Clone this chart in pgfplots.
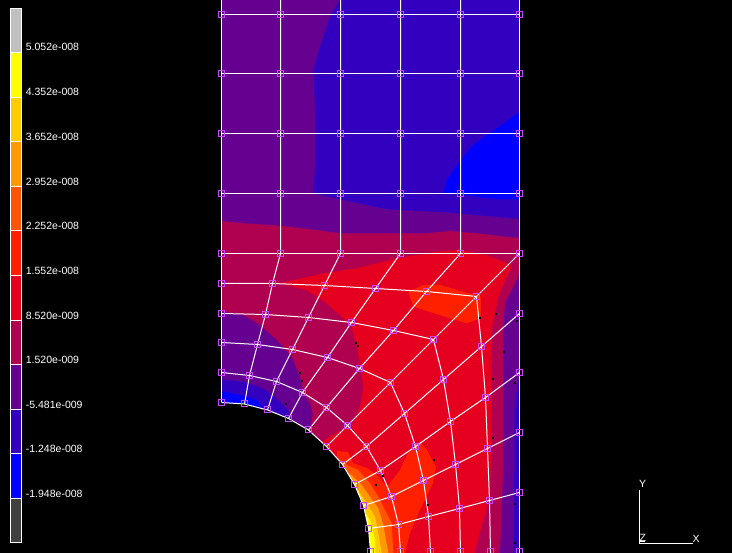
\documentclass[border=0pt]{standalone}
\usepackage{pgfplots}
\pgfplotsset{compat=1.18}
\usepackage{fontspec}
\setmainfont{Liberation Sans}
\definecolor{cP}{HTML}{660090}
\definecolor{cV}{HTML}{3300C0}
\definecolor{cB}{HTML}{0000FF}
\definecolor{cM}{HTML}{B00050}
\definecolor{cR}{HTML}{E60020}
\definecolor{cO}{HTML}{FF2000}
\definecolor{cF}{HTML}{FF5500}
\definecolor{cG}{HTML}{FF9900}
\definecolor{cH}{HTML}{FFCC00}
\definecolor{cY}{HTML}{FFFF00}
\definecolor{cNode}{HTML}{C848FF}
\definecolor{cHi}{HTML}{C0C0C0}
\definecolor{cLo}{HTML}{404040}
\pgfplotsset{
  reg/.style={fill=#1,draw=none,mark=none,forget plot},
  mesh/.style={draw=white,line width=1pt,mark=none,forget plot},
  seg/.style={fill=#1,draw=white,line width=1pt,mark=none,forget plot},
}
\begin{document}
\begin{tikzpicture}
\path[use as bounding box] (0,0) rectangle (732pt,553pt);
\begin{axis}[
  scale only axis, width=732pt, height=553pt, at={(0,0)}, anchor=south west,
  xmin=0, xmax=732, ymin=0, ymax=553, y dir=reverse,
  hide axis, clip=true,
]
% background
\addplot[reg=black] coordinates {(0,0)(732,0)(732,553)(0,553)} --cycle;
% upper base
\addplot[reg=cP] coordinates {(221.5,0)(519.5,0)(519.5,245)(221.5,245)} --cycle;
\addplot[reg=cV] coordinates {(340,0)(330,16)(318.3,51.7)(313.3,70)(315,108)(315.3,160)(313.3,193.3)(343.3,200)(386.7,209.3)(450,212.7)(519.5,219)(519.5,0)} --cycle;
\addplot[reg=cB] coordinates {(519.5,112)(496.7,128.3)(471.7,146)(458.3,163.3)(446.7,180)(443.3,192.7)(496.7,199)(519.5,199.3)} --cycle;
% magenta
\addplot[reg=cM] coordinates {(221.5,221)(243.3,223.3)(280,225.7)(310,229.3)(340,233.3)(426.7,233.3)(450,231)(476.7,233.3)(519.5,238.3)(519.5,553)(221.5,553)} --cycle;
% red
\addplot[reg=cR] coordinates {(280,283.3)(323.3,273.3)(356.7,268.3)(396.7,258.3)(436.7,251.7)(460,250)(486.7,255)(511.7,265)(498.3,296.7)(491.7,330)(491.7,430)(492,440)(490,487)(486.7,507)(476,547)(475.3,553)(370,553)(330,460)(321.7,441.7)(336,433)(353.3,423)(360,407)(363.3,386.7)(360,365)(356.7,346.7)(351.3,326.7)(343.3,318.3)(326.7,303.3)(306.7,290)} --cycle;
% orange-red
\addplot[reg=cO] coordinates {(408.3,291.7)(423.3,285)(440,285)(463.3,291.7)(481,296.7)(480.7,318.3)(466.7,323.3)(450,318.3)(413.3,306.7)} --cycle;
\addplot[reg=cO] coordinates {(337,451)(348,452)(353,463)(367,468)(377,475)(387,487)(400,470)(408,453)(420,442)(427,450)(436,467)(433,483)(420,510)(410,533)(405,553)(340,553)} --cycle;
\addplot[reg=cF] coordinates {(340,460)(346.7,465)(358.3,470)(370,483.3)(378.3,496.7)(385,510)(391.7,523.3)(393.3,553)(340,553)} --cycle;
\addplot[reg=cG] coordinates {(340,470)(351.7,475)(361.7,485)(370,496.7)(378.3,508.3)(383.3,525)(388.3,553)(340,553)} --cycle;
\addplot[reg=cH] coordinates {(340,485)(358.3,490)(366.7,503.3)(375,516.7)(378.3,533.3)(381.7,553)(340,553)} --cycle;
\addplot[reg=cY] coordinates {(340,505)(363.3,510)(370,520)(375,540)(375,553)(340,553)} --cycle;
% right strips
\addplot[reg=cP] coordinates {(519.5,274)(511.7,290)(505,303)(503.3,330)(503.3,430)(503.3,467)(501.7,510)(500,553)(519.5,553)} --cycle;
\addplot[reg=cV] coordinates {(519.5,375)(516,395)(514.3,410)(514.3,467)(513.3,553)(519.5,553)} --cycle;
% lower-left
\addplot[reg=cP] coordinates {(221.5,311.7)(243.3,315)(260,325)(276.7,340)(291.7,356.7)(300,376.7)(303.3,393.3)(310,403.3)(312.7,413.3)(310,432)(221.5,432)} --cycle;
\addplot[reg=cV] coordinates {(221.5,379.3)(243.3,381.7)(263.3,388.3)(276.7,398.3)(288.3,410)(291.7,425)(221.5,425)} --cycle;
\addplot[reg=cB] coordinates {(221.5,391)(240,395)(256.7,400)(266.7,412)(221.5,412)} --cycle;
% hole
\addplot[reg=black] coordinates {(200,402.5)(244.5,404)(267.5,410)(288.5,418.5)(308.5,430)(326.5,446.5)(342.5,464.5)(354.5,484.5)(363.5,505.5)(368.5,528.5)(370.5,551.5)(370.5,560)(200,560)} --cycle;
% specks
\addplot[only marks, mark=square*, mark size=0.5pt, mark options={draw=none,fill=black}, forget plot] coordinates {(356,342.3)(357.3,345.7)(299.3,372.3)(301.7,380.3)(285.3,404)(479.3,317.3)(495.3,313.3)(516.7,321)(503.3,351.3)(492.7,378.3)(515,382.3)(492.3,437.3)(433.3,459.3)(382.3,475.7)(375.3,484.3)(427.3,504.3)(514.3,503.3)(514.3,542.3)};
% mesh: upper columns and rows
\addplot[mesh] coordinates {(221.5,0)(221.5,402.5)};
\addplot[mesh] coordinates {(519.5,0)(519.5,553)};
\addplot[mesh] coordinates {(280.5,0)(280.5,253.5)(272.5,283.5)(265.5,314.5)(257.5,344.5)(249.5,375.5)(244.5,404)};
\addplot[mesh] coordinates {(340.5,0)(340.5,253.5)(324.5,285.5)(308.5,317.5)(292.5,349.5)(276.5,381.5)(267.5,410)};
\addplot[mesh] coordinates {(400.5,0)(400.5,253.5)(375.5,288.5)(351.5,322.5)(327.5,357.5)(302.5,392.5)(288.5,418.5)};
\addplot[mesh] coordinates {(460.5,0)(460.5,253.5)(426.5,291.5)(393.5,330.5)(359.5,368.5)(326.5,407.5)(308.5,430)};
\addplot[mesh] coordinates {(519.5,253.5)(476.5,296.5)(433.5,339.5)(390.5,382.5)(347.5,425.5)(326.5,446.5)};
\addplot[mesh] coordinates {(519.5,313.5)(481.5,346.5)(443.5,379.5)(404.5,413.5)(366.5,446.5)(342.5,464.5)};
\addplot[mesh] coordinates {(519.5,372.5)(485.5,397.5)(450.5,421.5)(415.5,446.5)(380.5,470.5)(354.5,484.5)};
\addplot[mesh] coordinates {(519.5,432.5)(487.5,448.5)(455.5,464.5)(423.5,480.5)(391.5,496.5)(363.5,505.5)};
\addplot[mesh] coordinates {(519.5,492.5)(489.5,500.5)(459.5,508.5)(428.5,516.5)(398.5,524.5)(368.5,528.5)};
\addplot[mesh] coordinates {(221.5,14.5)(519.5,14.5)};
\addplot[mesh] coordinates {(221.5,73.5)(519.5,73.5)};
\addplot[mesh] coordinates {(221.5,133.5)(519.5,133.5)};
\addplot[mesh] coordinates {(221.5,193.5)(519.5,193.5)};
\addplot[mesh] coordinates {(221.5,253.5)(519.5,253.5)};
% rings
\addplot[mesh] coordinates {(221.5,283.5)(272.5,283.5)(324.5,285.5)(375.5,288.5)(426.5,291.5)(476.5,296.5)(481.5,346.5)(485.5,397.5)(487.5,448.5)(489.5,500.5)(490.5,551.5)(490.5,556)};
\addplot[mesh] coordinates {(221.5,313.5)(265.5,314.5)(308.5,317.5)(351.5,322.5)(393.5,330.5)(433.5,339.5)(443.5,379.5)(450.5,421.5)(455.5,464.5)(459.5,508.5)(460.5,551.5)(460.5,556)};
\addplot[mesh] coordinates {(221.5,342.5)(257.5,344.5)(292.5,349.5)(327.5,357.5)(359.5,368.5)(390.5,382.5)(404.5,413.5)(415.5,446.5)(423.5,480.5)(428.5,516.5)(430.5,551.5)(430.5,556)};
\addplot[mesh] coordinates {(221.5,372.5)(249.5,375.5)(276.5,381.5)(302.5,392.5)(326.5,407.5)(347.5,425.5)(366.5,446.5)(380.5,470.5)(391.5,496.5)(398.5,524.5)(400.5,551.5)(400.5,556)};
\addplot[mesh] coordinates {(221.5,402.5)(244.5,404)(267.5,410)(288.5,418.5)(308.5,430)(326.5,446.5)(342.5,464.5)(354.5,484.5)(363.5,505.5)(368.5,528.5)(370.5,551.5)(370.5,556)};
% nodes
\addplot[only marks, mark=square, mark size=3pt, mark options={draw=cNode,line width=1pt,fill=none}, forget plot] coordinates {
(221.5,14.5)(280.5,14.5)(340.5,14.5)(400.5,14.5)(460.5,14.5)(519.5,14.5)
(221.5,73.5)(280.5,73.5)(340.5,73.5)(400.5,73.5)(460.5,73.5)(519.5,73.5)
(221.5,133.5)(280.5,133.5)(340.5,133.5)(400.5,133.5)(460.5,133.5)(519.5,133.5)
(221.5,193.5)(280.5,193.5)(340.5,193.5)(400.5,193.5)(460.5,193.5)(519.5,193.5)
(221.5,253.5)(280.5,253.5)(340.5,253.5)(400.5,253.5)(460.5,253.5)(519.5,253.5)
(519.5,313.5)(519.5,372.5)(519.5,432.5)(519.5,492.5)(519.5,551.5)
(221.5,283.5)(272.5,283.5)(324.5,285.5)(375.5,288.5)(426.5,291.5)(476.5,296.5)(481.5,346.5)(485.5,397.5)(487.5,448.5)(489.5,500.5)(490.5,551.5)
(221.5,313.5)(265.5,314.5)(308.5,317.5)(351.5,322.5)(393.5,330.5)(433.5,339.5)(443.5,379.5)(450.5,421.5)(455.5,464.5)(459.5,508.5)(460.5,551.5)
(221.5,342.5)(257.5,344.5)(292.5,349.5)(327.5,357.5)(359.5,368.5)(390.5,382.5)(404.5,413.5)(415.5,446.5)(423.5,480.5)(428.5,516.5)(430.5,551.5)
(221.5,372.5)(249.5,375.5)(276.5,381.5)(302.5,392.5)(326.5,407.5)(347.5,425.5)(366.5,446.5)(380.5,470.5)(391.5,496.5)(398.5,524.5)(400.5,551.5)
(221.5,402.5)(244.5,404)(267.5,410)(288.5,418.5)(308.5,430)(326.5,446.5)(342.5,464.5)(354.5,484.5)(363.5,505.5)(368.5,528.5)(370.5,551.5)
};
% colour bar
\addplot[seg=cHi] coordinates {(10.5,8.5)(21.5,8.5)(21.5,52.5)(10.5,52.5)} --cycle;
\addplot[seg=cY] coordinates {(10.5,52.5)(21.5,52.5)(21.5,97.5)(10.5,97.5)} --cycle;
\addplot[seg=cH] coordinates {(10.5,97.5)(21.5,97.5)(21.5,141.5)(10.5,141.5)} --cycle;
\addplot[seg=cG] coordinates {(10.5,141.5)(21.5,141.5)(21.5,186.5)(10.5,186.5)} --cycle;
\addplot[seg=cF] coordinates {(10.5,186.5)(21.5,186.5)(21.5,230.5)(10.5,230.5)} --cycle;
\addplot[seg=cO] coordinates {(10.5,230.5)(21.5,230.5)(21.5,275.5)(10.5,275.5)} --cycle;
\addplot[seg=cR] coordinates {(10.5,275.5)(21.5,275.5)(21.5,320.5)(10.5,320.5)} --cycle;
\addplot[seg=cM] coordinates {(10.5,320.5)(21.5,320.5)(21.5,364.5)(10.5,364.5)} --cycle;
\addplot[seg=cP] coordinates {(10.5,364.5)(21.5,364.5)(21.5,409.5)(10.5,409.5)} --cycle;
\addplot[seg=cV] coordinates {(10.5,409.5)(21.5,409.5)(21.5,453.5)(10.5,453.5)} --cycle;
\addplot[seg=cB] coordinates {(10.5,453.5)(21.5,453.5)(21.5,498.5)(10.5,498.5)} --cycle;
\addplot[seg=cLo] coordinates {(10.5,498.5)(21.5,498.5)(21.5,542.5)(10.5,542.5)} --cycle;
% triad
\addplot[mesh] coordinates {(639.5,490)(639.5,543.5)(692.5,543.5)};
\addplot[mesh] coordinates {(639.5,541.5)(645,541.5)};
\end{axis}
\begin{scope}[every node/.style={text=white,inner sep=0pt,anchor=west,font=\fontsize{10.5}{12}\selectfont}]
\foreach \y/\t in {47/5.052e-008,92/4.352e-008,137/3.652e-008,181.5/2.952e-008,226/2.252e-008,270.5/1.552e-008,315.5/8.520e-009,360/1.520e-009,404.5/-5.481e-009,449/-1.248e-008,493.5/-1.948e-008}
  \node at (25.7pt,{553pt-\y pt}) {\t};
\node at (639pt,{553pt-484pt}) {Y};
\node at (692.5pt,{553pt-539pt}) {X};
\node at (639.5pt,{553pt-538pt}) {Z};
\end{scope}
\end{tikzpicture}
\end{document}
